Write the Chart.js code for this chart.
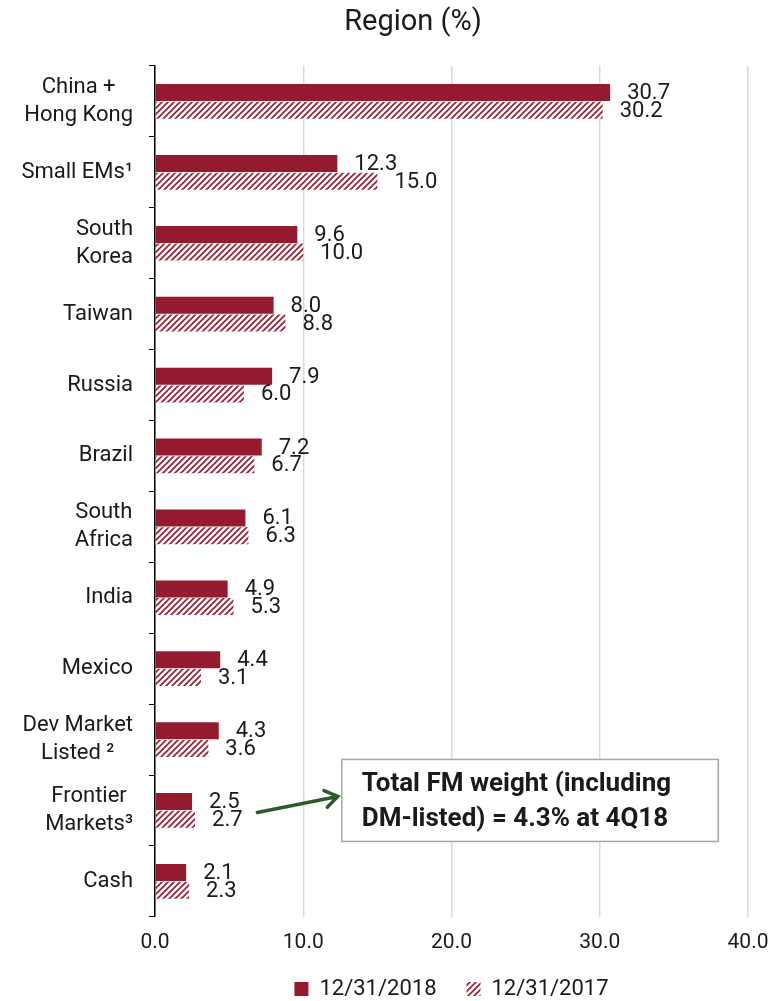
<!DOCTYPE html>
<html>
<head>
<meta charset="utf-8">
<script src="https://cdn.jsdelivr.net/npm/chart.js@4"></script>
<style>
  html, body { margin: 0; padding: 0; background: #fff; }
</style>
</head>
<body>
<canvas id="regionChart" width="773" height="1001"></canvas>
<script>
// data
const categories = [['China +', 'Hong Kong'], 'Small EMs¹', ['South', 'Korea'], 'Taiwan', 'Russia', 'Brazil',
  ['South', 'Africa'], 'India', 'Mexico', ['Dev Market', 'Listed ²'], ['Frontier', 'Markets³'], 'Cash'];
const values2018 = [30.7, 12.3, 9.6, 8.0, 7.9, 7.2, 6.1, 4.9, 4.4, 4.3, 2.5, 2.1];
const values2017 = [30.2, 15.0, 10.0, 8.8, 6.0, 6.7, 6.3, 5.3, 3.1, 3.6, 2.7, 2.3];
const seriesNames = ['12/31/2018', '12/31/2017'];
const xTicks = [0, 10, 20, 30, 40];
const noteLines = ['Total FM weight (including', 'DM-listed) = 4.3% at 4Q18'];

const RED = '#941b2f';
const TEXT = '#1a1a1a';
const FONT = 'Roboto, "DejaVu Sans", sans-serif';

function makeHatch(color) {
    const c = document.createElement('canvas');
    c.width = 6; c.height = 6;
    const g = c.getContext('2d');
    g.fillStyle = '#fff';
    g.fillRect(0, 0, 6, 6);
    g.strokeStyle = color;
    g.lineWidth = 1.6;
    g.beginPath();
    g.moveTo(0, 6); g.lineTo(6, 0);
    g.moveTo(-3, 3); g.lineTo(3, -3);
    g.moveTo(3, 9); g.lineTo(9, 3);
    g.stroke();
    return g.createPattern(c, 'repeat');
}
const hatch = makeHatch(RED);

// title, category labels, value labels, note box and arrow
const extras = {
    id: 'extras',
    afterDatasetsDraw(chart) {
        const ctx = chart.ctx;
        const x = chart.scales.x, y = chart.scales.y;
        ctx.save();

        ctx.fillStyle = TEXT;
        ctx.font = '29px ' + FONT;
        ctx.textAlign = 'center';
        ctx.textBaseline = 'middle';
        ctx.fillText('Region (%)', 413, 23);

        // category labels: block right-aligned to the axis, lines centred in the block
        ctx.font = '22px ' + FONT;
        const labelRight = y.right - 22;
        categories.forEach((lab, i) => {
            const lines = Array.isArray(lab) ? lab : [lab];
            const w = Math.max(...lines.map(l => ctx.measureText(l).width));
            const yc = y.getPixelForValue(i);
            lines.forEach((l, k) => {
                ctx.fillText(l, labelRight - w / 2, yc + (k - (lines.length - 1) / 2) * 28);
            });
        });

        ctx.textAlign = 'left';
        chart.data.datasets.forEach((ds, di) => {
            chart.getDatasetMeta(di).data.forEach((bar, i) => {
                ctx.fillText(ds.data[i].toFixed(1), bar.x + 17, bar.y + 1);
            });
        });

        // note box next to Frontier Markets
        const yc = y.getPixelForValue(10);
        const bx0 = x.getPixelForValue(12.6), bx1 = x.getPixelForValue(38.0);
        const by0 = yc - 51, by1 = yc + 31;
        ctx.fillStyle = '#fff';
        ctx.fillRect(bx0, by0, bx1 - bx0, by1 - by0);
        ctx.strokeStyle = '#a6a6a6';
        ctx.lineWidth = 1.5;
        ctx.strokeRect(bx0, by0, bx1 - bx0, by1 - by0);
        ctx.fillStyle = TEXT;
        ctx.font = 'bold 26px ' + FONT;
        ctx.fillText(noteLines[0], bx0 + 20, by0 + 25);
        ctx.fillText(noteLines[1], bx0 + 20, by0 + 60);

        // arrow
        const ax0 = x.getPixelForValue(6.9), ay0 = yc + 2;
        const ax1 = bx0 - 4, ay1 = yc - 14;
        const ang = Math.atan2(ay1 - ay0, ax1 - ax0);
        ctx.strokeStyle = '#2d5a2b';
        ctx.lineWidth = 3.5;
        ctx.lineCap = 'round';
        ctx.beginPath();
        ctx.moveTo(ax0, ay0); ctx.lineTo(ax1, ay1);
        ctx.moveTo(ax1 - 15 * Math.cos(ang - 0.6), ay1 - 15 * Math.sin(ang - 0.6));
        ctx.lineTo(ax1, ay1);
        ctx.lineTo(ax1 - 15 * Math.cos(ang + 0.6), ay1 - 15 * Math.sin(ang + 0.6));
        ctx.stroke();

        ctx.restore();
    }
};

const ctx = document.getElementById('regionChart').getContext('2d');
const regionChart = new Chart(ctx, {
    type: 'bar',
    data: {
        labels: categories,
        datasets: [{
            label: seriesNames[0],
            data: values2018,
            backgroundColor: RED,
            categoryPercentage: 0.5,
            barPercentage: 0.96
        }, {
            label: seriesNames[1],
            data: values2017,
            backgroundColor: hatch,
            categoryPercentage: 0.5,
            barPercentage: 0.96
        }]
    },
    options: {
        indexAxis: 'y',
        responsive: false,
        animation: false,
        layout: { padding: { top: 66, right: 25, bottom: -9, left: 0 } },
        scales: {
            x: {
                min: 0,
                max: 40,
                afterBuildTicks: (s) => { s.ticks = xTicks.map(v => ({ value: v })); },
                afterFit: (s) => { s.height -= 20; s.paddingRight = 0; },
                grid: { color: '#d9d9d9', lineWidth: 1.5, drawTicks: false },
                border: { display: false },
                ticks: {
                    color: TEXT,
                    font: { size: 21, family: FONT },
                    padding: 13,
                    callback: (v) => Number(v).toFixed(1)
                }
            },
            y: {
                afterFit: (s) => { s.width = 155; },
                grid: { drawOnChartArea: false, drawTicks: true, tickLength: 6, color: '#000', lineWidth: 1 },
                border: { display: true, color: '#000', width: 1.5 },
                ticks: { display: false }
            }
        },
        plugins: {
            legend: {
                position: 'bottom',
                fullSize: false,
                labels: {
                    color: TEXT,
                    font: { size: 22, family: FONT },
                    boxWidth: 14,
                    boxHeight: 14,
                    padding: 30
                }
            },
            title: { display: false },
            tooltip: { enabled: false }
        }
    },
    plugins: [extras]
});
</script>
</body>
</html>
